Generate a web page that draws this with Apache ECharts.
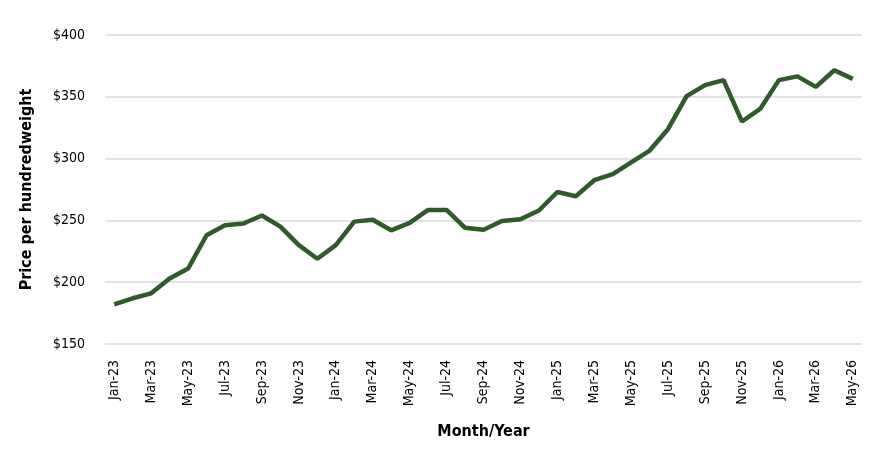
<!DOCTYPE html>
<html>
<head>
<meta charset="utf-8">
<script src="https://cdn.jsdelivr.net/npm/echarts@6/dist/echarts.min.js"></script>
<style>
  html, body { margin: 0; padding: 0; background: #fff; }
  #main { width: 882px; height: 471px; }
</style>
</head>
<body>
<div id="main"></div>
<script>
// monthly months Jan-23 .. May-26
var months = [
  "Jan-23", "Feb-23", "Mar-23", "Apr-23", "May-23", "Jun-23", "Jul-23", "Aug-23", "Sep-23", "Oct-23", "Nov-23", "Dec-23",
  "Jan-24", "Feb-24", "Mar-24", "Apr-24", "May-24", "Jun-24", "Jul-24", "Aug-24", "Sep-24", "Oct-24", "Nov-24", "Dec-24",
  "Jan-25", "Feb-25", "Mar-25", "Apr-25", "May-25", "Jun-25", "Jul-25", "Aug-25", "Sep-25", "Oct-25", "Nov-25", "Dec-25",
  "Jan-26", "Feb-26", "Mar-26", "Apr-26", "May-26"
];

// price per hundredweight
var prices = [
  182, 187, 191, 203, 211, 238, 246, 247.5, 254, 245, 230, 219,
  230, 249, 250.5, 242, 248, 258.5, 258.5, 244, 242.5, 249.5, 251, 258,
  273, 269.5, 282.5, 287.5, 297, 306.5, 324, 350.5, 359.5, 363.5, 330, 340.5,
  363.5, 366.5, 358, 371.5, 364.5
];

var yTicks = { min: 150, max: 400, step: 50 };

var myChart = echarts.init(document.getElementById("main"));
var font = "'DejaVu Sans Condensed', 'Liberation Sans Narrow', sans-serif";

var option = {
  animation: false,
  grid: { left: 105, right: 20, top: 35, bottom: 127 },
  xAxis: {
    type: "category",
    data: months,
    boundaryGap: true,
    name: "Month/Year",
    nameLocation: "middle",
    nameGap: 80,
    nameTextStyle: { fontFamily: font, fontWeight: "bold", fontSize: 16, color: "#000" },
    axisLine: { show: false },
    axisTick: { show: false },
    axisLabel: {
      interval: 1,
      rotate: 90,
      margin: 16,
      fontFamily: font,
      fontSize: 14,
      color: "#000"
    }
  },
  yAxis: {
    type: "value",
    min: yTicks.min,
    max: yTicks.max,
    interval: yTicks.step,
    name: "Price per hundredweight",
    nameLocation: "middle",
    nameGap: 70,
    nameTextStyle: { fontFamily: font, fontWeight: "bold", fontSize: 16, color: "#000" },
    axisLine: { show: false },
    axisTick: { show: false },
    axisLabel: {
      margin: 20,
      fontFamily: font,
      fontSize: 14,
      color: "#000",
      formatter: function (v) { return "$" + v; }
    },
    splitLine: { lineStyle: { color: "#d9d9d9", width: 1.5 } }
  },
  series: [
    {
      type: "line",
      data: prices,
      symbol: "none",
      lineStyle: { color: "#2f5a2a", width: 4.5 }
    }
  ]
};

myChart.setOption(option);
</script>
</body>
</html>
